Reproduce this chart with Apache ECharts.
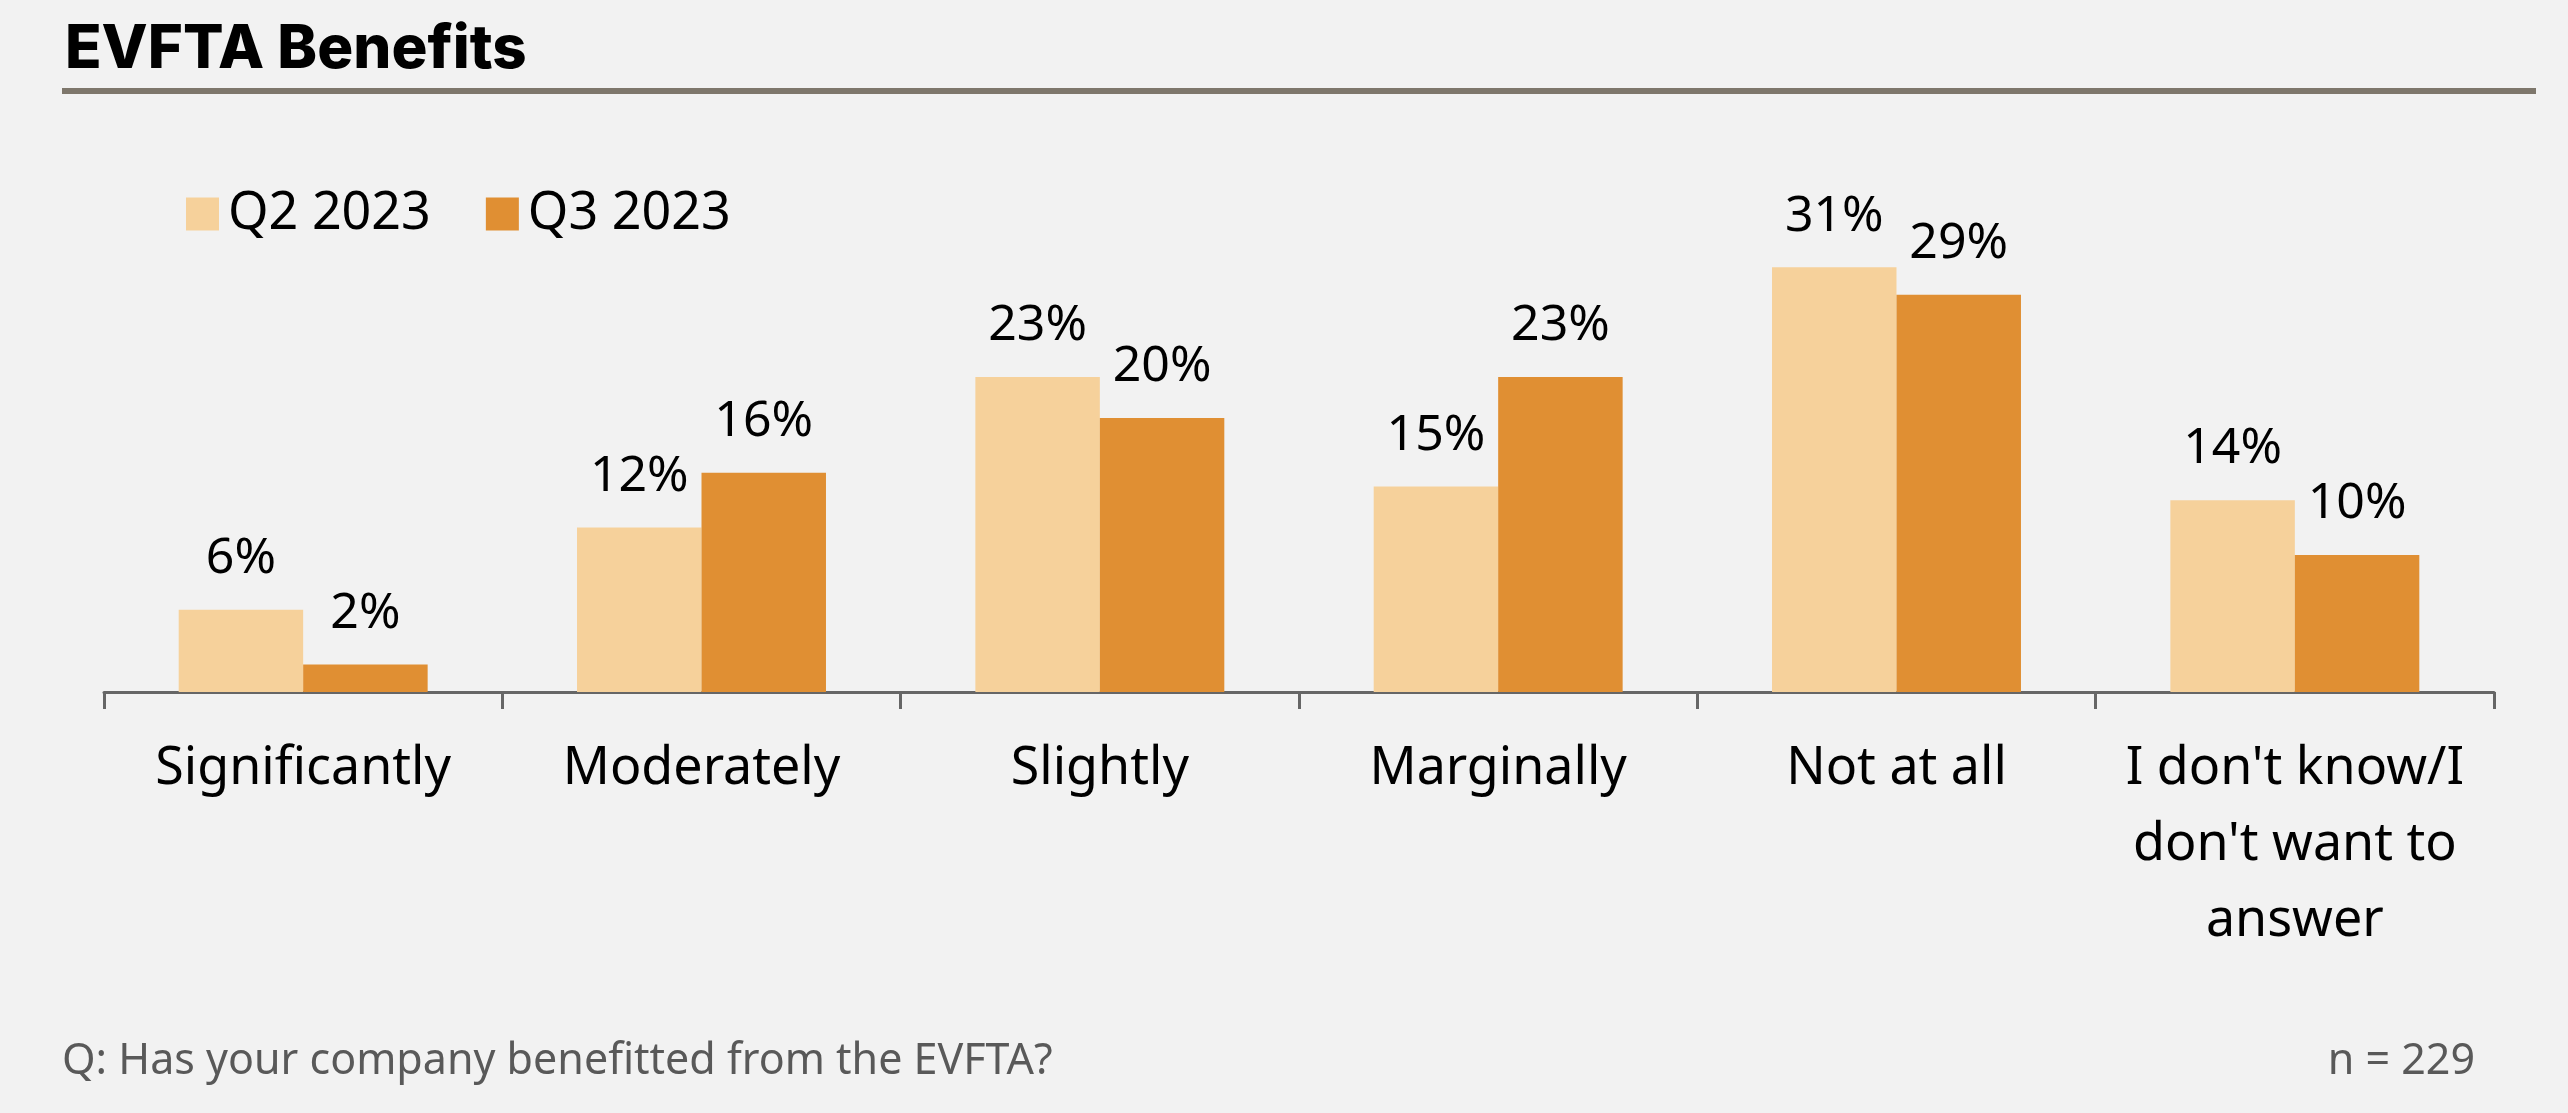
<!DOCTYPE html>
<html>
<head>
<meta charset="utf-8">
<script src="https://cdn.jsdelivr.net/npm/echarts@6/dist/echarts.min.js"></script>
<style>
  html, body { margin: 0; padding: 0; background: #F2F2F2; }
  #chart { width: 2568px; height: 1113px; }
</style>
</head>
<body>
<div id="chart"></div>
<script>
const categories = ['Significantly', 'Moderately', 'Slightly', 'Marginally', 'Not at all', "I don't know/I don't want to answer"];
const seriesNames = ['Q2 2023', 'Q3 2023'];
const q2Values = [6, 12, 23, 15, 31, 14];
const q3Values = [2, 16, 20, 23, 29, 10];
const titleText = 'EVFTA Benefits';
const questionText = 'Q: Has your company benefitted from the EVFTA?';
const sampleText = 'n = 229';

const FONT = '"Noto Sans", sans-serif';
const chart = echarts.init(document.getElementById('chart'), null, { renderer: 'canvas' });

const labelStyle = {
  show: true,
  position: 'top',
  distance: 26,
  formatter: p => p.value + '%',
  fontFamily: FONT,
  fontSize: 50,
  color: '#000'
};

chart.setOption({
  backgroundColor: '#F2F2F2',
  animation: false,
  title: {
    text: titleText,
    left: 60,
    top: 15,
    textStyle: { fontFamily: 'Inter, sans-serif', fontWeight: 800, fontSize: 60, color: '#000' }
  },
  legend: {
    data: seriesNames,
    left: 181,
    top: 183,
    icon: 'rect',
    itemWidth: 33,
    itemHeight: 33,
    itemGap: 55,
    textStyle: { fontFamily: FONT, fontSize: 52, color: '#000', padding: [0, 0, 0, 4] }
  },
  grid: { left: 104, right: 74, top: 144, bottom: 421, containLabel: false },
  xAxis: {
    type: 'category',
    data: categories,
    axisLine: { show: true, lineStyle: { color: '#666666', width: 3 } },
    axisTick: { show: true, length: 17, lineStyle: { color: '#666666', width: 3 } },
    axisLabel: {
      margin: 39,
      fontFamily: FONT,
      fontSize: 52,
      lineHeight: 76,
      color: '#000',
      interval: 0,
      formatter: v => v === "I don't know/I don't want to answer" ? "I don't know/I\ndon't want to\nanswer" : v
    }
  },
  yAxis: {
    type: 'value',
    min: 0,
    max: 40,
    show: false,
    splitLine: { show: false }
  },
  series: [
    {
      name: seriesNames[0],
      type: 'bar',
      data: q2Values,
      barGap: '0%',
      barCategoryGap: '37.5%',
      itemStyle: { color: '#F6D19B' },
      label: labelStyle
    },
    {
      name: seriesNames[1],
      type: 'bar',
      data: q3Values,
      barGap: '0%',
      barCategoryGap: '37.5%',
      itemStyle: { color: '#E08F33' },
      label: labelStyle
    }
  ],
  graphic: [
    {
      type: 'line',
      shape: { x1: 62, y1: 91, x2: 2536, y2: 91 },
      style: { stroke: '#7E776C', lineWidth: 6 }
    },
    {
      type: 'text',
      x: 62,
      y: 1062,
      style: { text: questionText, font: '43px "Noto Sans", sans-serif', fill: '#595959', verticalAlign: 'middle', align: 'left' }
    },
    {
      type: 'text',
      x: 2475,
      y: 1062,
      style: { text: sampleText, font: '43px "Noto Sans", sans-serif', fill: '#595959', verticalAlign: 'middle', align: 'right' }
    }
  ]
});
</script>
</body>
</html>
